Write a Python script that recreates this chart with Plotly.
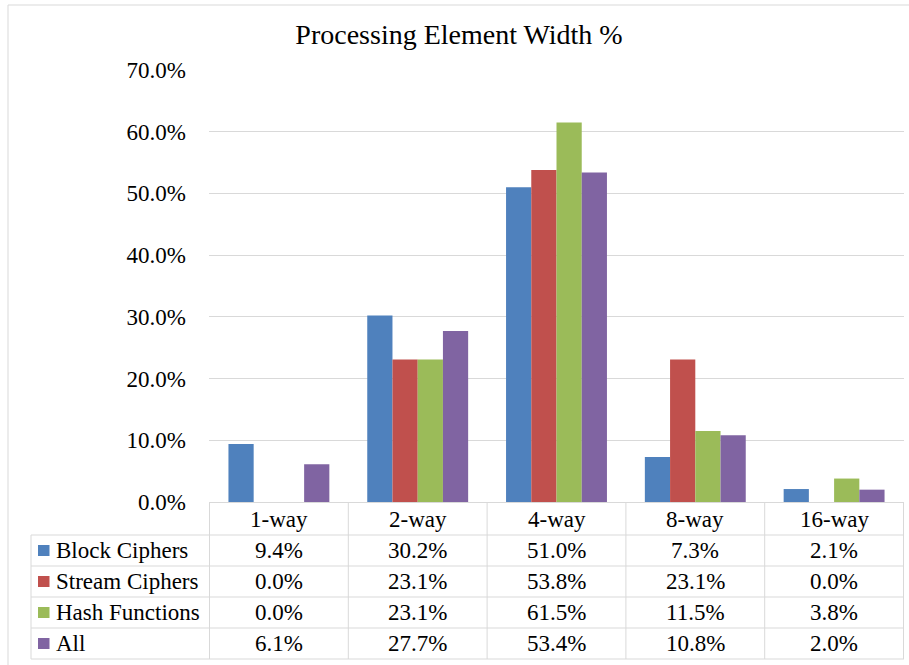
import plotly.graph_objects as go

# ---- data -------------------------------------------------------------
categories = ["1-way", "2-way", "4-way", "8-way", "16-way"]
series_names = ["Block Ciphers", "Stream Ciphers", "Hash Functions", "All"]
block_ciphers = [9.4, 30.2, 51.0, 7.3, 2.1]
stream_ciphers = [0.0, 23.1, 53.8, 23.1, 0.0]
hash_functions = [0.0, 23.1, 61.5, 11.5, 3.8]
all_primitives = [6.1, 27.7, 53.4, 10.8, 2.0]
y_tick_values = [0, 10, 20, 30, 40, 50, 60, 70]

series_values = [block_ciphers, stream_ciphers, hash_functions, all_primitives]
colors = ["#4F81BD", "#C0504D", "#9BBB59", "#8064A2"]

# ---- geometry ----------------------------------------------------------
W, H = 909, 665
ML, MR, MT, MB = 209, 5, 70, 163
PW, PH = W - ML - MR, H - MT - MB
FONT = "Liberation Serif, Times New Roman, serif"
GRID = "#D9D9D9"
TXT = "#000000"
FS = 23


def px_x(x):
    return (x - ML) / PW


def px_y(y):
    return (H - MB - y) / PH


fig = go.Figure()
for name, vals, col in zip(series_names, series_values, colors):
    fig.add_trace(go.Bar(
        x=categories,
        y=[v / 100 for v in vals],
        name=name,
        marker=dict(color=col, line=dict(width=0)),
        showlegend=False,
    ))

shapes = []
annotations = []

# table layout (pixel rows)
header_top, row_h = 502, 31
header_bottom = 535
table_left, table_right = 31, 904
row_tops = [header_bottom + i * row_h for i in range(len(series_names) + 1)]

# horizontal rules
for yy in row_tops:
    shapes.append(dict(type="line", xref="paper", yref="paper",
                       x0=px_x(table_left), x1=px_x(table_right),
                       y0=px_y(yy), y1=px_y(yy),
                       line=dict(color=GRID, width=1)))
# vertical rules at category boundaries
for i in range(len(categories) + 1):
    shapes.append(dict(type="line", xref="x", yref="paper",
                       x0=i - 0.5, x1=i - 0.5,
                       y0=px_y(header_top), y1=px_y(row_tops[-1]),
                       line=dict(color=GRID, width=1)))
# left edge of the series-name column
shapes.append(dict(type="line", xref="paper", yref="paper",
                   x0=px_x(table_left), x1=px_x(table_left),
                   y0=px_y(header_bottom), y1=px_y(row_tops[-1]),
                   line=dict(color=GRID, width=1)))

# header row: category names
for cat in categories:
    annotations.append(dict(x=cat, xref="x", y=px_y(header_top + 17), yref="paper",
                            text=cat, showarrow=False, xanchor="center", yanchor="middle",
                            font=dict(family=FONT, size=FS, color=TXT)))

# series rows: key, name, values
for r, (name, vals, col) in enumerate(zip(series_names, series_values, colors)):
    yc = row_tops[r] + row_h / 2
    shapes.append(dict(type="rect", xref="paper", yref="paper",
                       x0=px_x(38), x1=px_x(49.5),
                       y0=px_y(yc - 5.5), y1=px_y(yc + 5.5),
                       fillcolor=col, line=dict(width=0)))
    annotations.append(dict(x=px_x(54), xref="paper", y=px_y(yc), yref="paper",
                            text=name, showarrow=False, xanchor="left", yanchor="middle",
                            font=dict(family=FONT, size=FS, color=TXT)))
    for cat, v in zip(categories, vals):
        annotations.append(dict(x=cat, xref="x", y=px_y(yc), yref="paper",
                                text=f"{v:.1f}%", showarrow=False,
                                xanchor="center", yanchor="middle",
                                font=dict(family=FONT, size=FS, color=TXT)))

# chart frame (top and left edges)
shapes.append(dict(type="line", xref="paper", yref="paper",
                   x0=px_x(8), x1=px_x(W + 5), y0=px_y(5), y1=px_y(5),
                   line=dict(color=GRID, width=1)))
shapes.append(dict(type="line", xref="paper", yref="paper",
                   x0=px_x(8), x1=px_x(8), y0=px_y(5), y1=px_y(H + 5),
                   line=dict(color=GRID, width=1)))

fig.update_layout(
    width=W, height=H,
    margin=dict(l=ML, r=MR, t=MT, b=MB, pad=0),
    paper_bgcolor="white", plot_bgcolor="white",
    barmode="group", bargap=0.273, bargroupgap=0,
    title=dict(text="Processing Element Width %", x=459 / W, xref="container",
               xanchor="center", y=1 - 34 / H, yref="container", yanchor="middle",
               font=dict(family=FONT, size=28, color=TXT)),
    font=dict(family=FONT, size=FS, color=TXT),
    xaxis=dict(showticklabels=False, showgrid=False, showline=True,
               linecolor=GRID, linewidth=1, ticks="", zeroline=False),
    yaxis=dict(range=[0, 0.7], tickvals=[v / 100 for v in y_tick_values],
               tickformat=".1%", showgrid=True, gridcolor=GRID, gridwidth=1,
               zeroline=False, showline=False, ticks="", ticklabelstandoff=22,
               tickfont=dict(family=FONT, size=FS, color=TXT)),
    shapes=shapes,
    annotations=annotations,
)

fig.write_html("out.html")
